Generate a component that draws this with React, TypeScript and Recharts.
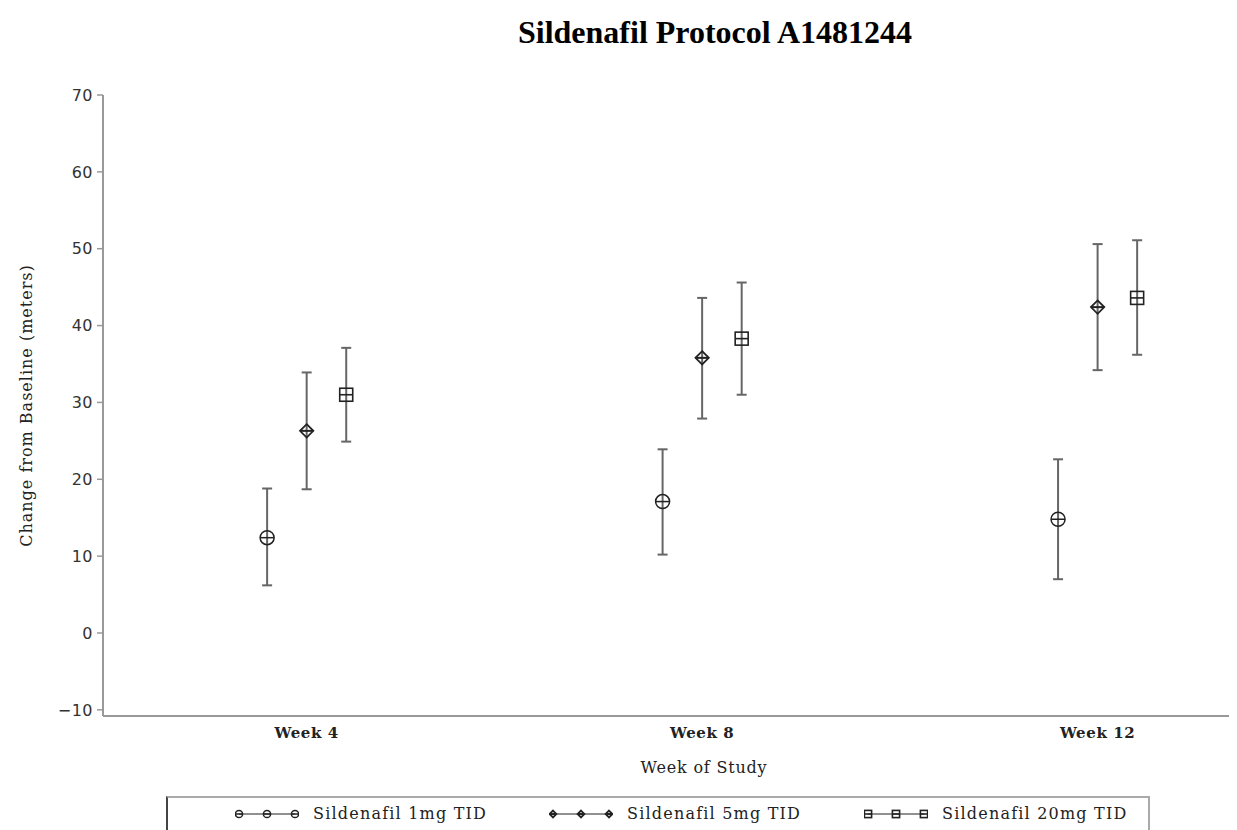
import React from 'react';
import { ErrorBar, Legend, Scatter, ScatterChart, XAxis, YAxis } from 'recharts';

const WEEKS = [4, 8, 12];
const WEEK_LABELS = ['Week 4', 'Week 8', 'Week 12'];
const Y_TICKS = [-10, 0, 10, 20, 30, 40, 50, 60, 70];

const SERIES_NAMES = ['Sildenafil 1mg TID', 'Sildenafil 5mg TID', 'Sildenafil 20mg TID'];

// change from baseline: mean and CI ends, per week
const MEAN_1MG = [12.4, 17.1, 14.8];
const LOW_1MG = [6.2, 10.2, 7.0];
const HIGH_1MG = [18.8, 23.9, 22.6];

const MEAN_5MG = [26.3, 35.8, 42.4];
const LOW_5MG = [18.7, 27.9, 34.2];
const HIGH_5MG = [33.9, 43.6, 50.6];

const MEAN_20MG = [31.0, 38.3, 43.6];
const LOW_20MG = [24.9, 31.0, 36.2];
const HIGH_20MG = [37.1, 45.6, 51.1];

type Kind = 'circle' | 'diamond' | 'square';

const DODGE = [-0.4, 0, 0.4];
const KINDS: Kind[] = ['circle', 'diamond', 'square'];

const buildRows = (mean: number[], low: number[], high: number[], dodge: number) =>
  WEEKS.map((w, i) => ({
    x: w + dodge,
    y: mean[i],
    err: [mean[i] - low[i], high[i] - mean[i]],
  }));

const SERIES = [
  buildRows(MEAN_1MG, LOW_1MG, HIGH_1MG, DODGE[0]),
  buildRows(MEAN_5MG, LOW_5MG, HIGH_5MG, DODGE[1]),
  buildRows(MEAN_20MG, LOW_20MG, HIGH_20MG, DODGE[2]),
];

const INK = '#222';
const AXIS = '#999';
const SERIF = '"DejaVu Serif", serif';

const Marker = ({ kind, cx, cy, r }: { kind: Kind; cx: number; cy: number; r: number }) => {
  if (kind === 'circle') {
    return (
      <g>
        <circle cx={cx} cy={cy} r={r} fill="none" stroke={INK} strokeWidth={1.5} />
        <line x1={cx - r} x2={cx + r} y1={cy} y2={cy} stroke={INK} strokeWidth={1.5} />
      </g>
    );
  }
  if (kind === 'diamond') {
    const d = r * 0.95;
    return (
      <g>
        <polygon
          points={`${cx},${cy - d} ${cx + d},${cy} ${cx},${cy + d} ${cx - d},${cy}`}
          fill="none"
          stroke={INK}
          strokeWidth={1.8}
        />
        <line x1={cx - d} x2={cx + d} y1={cy} y2={cy} stroke={INK} strokeWidth={2} />
      </g>
    );
  }
  return (
    <g>
      <rect x={cx - r} y={cy - r} width={r * 2} height={r * 2} fill="none" stroke={INK} strokeWidth={1.6} />
      <line x1={cx - r} x2={cx + r} y1={cy} y2={cy} stroke={INK} strokeWidth={1.6} />
    </g>
  );
};

const makeShape = (kind: Kind) => (props: any) => {
  const { cx, cy } = props;
  if (cx == null || cy == null) return <g />;
  return <Marker kind={kind} cx={cx} cy={cy} r={kind === 'square' ? 6.5 : 7} />;
};

const LegendIcon = ({ kind }: { kind: Kind }) => (
  <svg width={64} height={14} style={{ display: 'block' }}>
    <line x1={4} x2={60} y1={7} y2={7} stroke={INK} strokeWidth={1.2} />
    {[4, 32, 60].map((x) => (
      <Marker key={x} kind={kind} cx={x} cy={7} r={3.6} />
    ))}
  </svg>
);

const LEGEND_LEFTS = [67, 381, 696];

const renderLegend = () => (
  <div
    style={{
      position: 'relative',
      width: 984,
      height: 44,
      boxSizing: 'border-box',
      borderTop: '2px solid #aaa',
      borderRight: '2px solid #aaa',
      borderLeft: '2px solid #444',
      background: '#fff',
    }}
  >
    {SERIES_NAMES.map((name, i) => (
      <div
        key={name}
        style={{
          position: 'absolute',
          left: LEGEND_LEFTS[i],
          top: 6,
          display: 'flex',
          alignItems: 'center',
          gap: 14,
          fontFamily: SERIF,
          fontSize: 16,
          letterSpacing: 1.2,
          color: INK,
          whiteSpace: 'nowrap',
        }}
      >
        <LegendIcon kind={KINDS[i]} />
        <span>{name}</span>
      </div>
    ))}
  </div>
);

const YLabel = (props: any) => {
  const vb = props.viewBox || {};
  const x = 24;
  const y = (vb.y ?? 87) + (vb.height ?? 621) / 2;
  return (
    <text
      x={x}
      y={y}
      transform={`rotate(-90, ${x}, ${y})`}
      textAnchor="middle"
      fontFamily={SERIF}
      fontSize={16}
      letterSpacing={1}
      fill={INK}
    >
      Change from Baseline (meters)
    </text>
  );
};

const App: React.FC = () => {
  return (
    <div style={{ position: 'relative', width: 1229, height: 822 }}>
      <div
        style={{
          position: 'absolute',
          top: 6,
          left: 0,
          width: 1414,
          textAlign: 'center',
          fontFamily: '"Liberation Serif", "Times New Roman", serif',
          fontWeight: 'bold',
          fontSize: 32,
          lineHeight: '36px',
          color: '#000',
        }}
      >
        Sildenafil Protocol A1481244
      </div>
      <ScatterChart width={1229} height={822} margin={{ top: 87, right: 0, bottom: 54, left: 0 }}>
        <XAxis
          type="number"
          dataKey="x"
          domain={[1.94, 13.41]}
          ticks={WEEKS}
          allowDataOverflow
          tickFormatter={(v: number) => WEEK_LABELS[WEEKS.indexOf(v)] ?? ''}
          tickLine={false}
          axisLine={{ stroke: AXIS, strokeWidth: 2 }}
          tickMargin={5}
          height={60}
          tick={{ fill: INK, fontSize: 15, fontFamily: SERIF, fontWeight: 'bold', letterSpacing: 0.6 }}
          label={{
            value: 'Week of Study',
            position: 'bottom',
            offset: -14,
            dx: 34,
            style: { fill: INK, fontSize: 16, fontFamily: SERIF, letterSpacing: 0.8 },
          }}
        />
        <YAxis
          type="number"
          dataKey="y"
          domain={[-10.8, 70]}
          ticks={Y_TICKS}
          allowDataOverflow
          width={95}
          axisLine={{ stroke: AXIS, strokeWidth: 2 }}
          tickLine={{ stroke: AXIS, strokeWidth: 1.5 }}
          tickSize={6}
          tickMargin={4}
          tick={{ fill: '#333', fontSize: 16, fontFamily: '"DejaVu Sans", sans-serif', letterSpacing: 0.5 }}
          tickFormatter={(v: number) => (v < 0 ? `\u2212${Math.abs(v)}` : `${v}`)}
          label={{ content: YLabel }}
        />
        {SERIES.map((rows, i) => (
          <Scatter
            key={SERIES_NAMES[i]}
            name={SERIES_NAMES[i]}
            data={rows}
            shape={makeShape(KINDS[i])}
            isAnimationActive={false}
          >
            <ErrorBar dataKey="err" direction="y" width={5} stroke="#666" strokeWidth={2} />
          </Scatter>
        ))}
        <Legend
          layout="horizontal"
          verticalAlign="middle"
          align="center"
          wrapperStyle={{ left: 158, top: 788, width: 984, height: 44 }}
          content={renderLegend}
        />
      </ScatterChart>
    </div>
  );
};

export default App;
